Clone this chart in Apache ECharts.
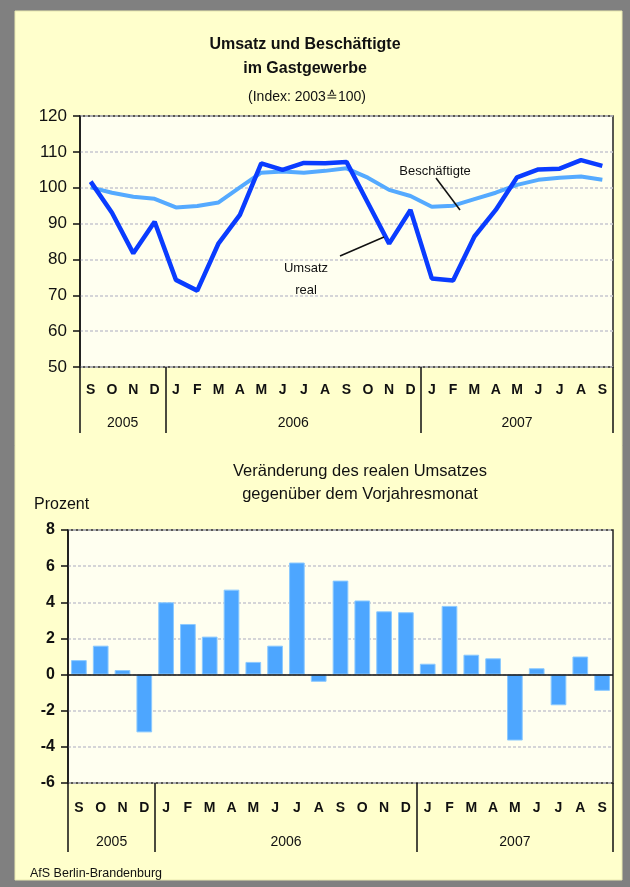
<!DOCTYPE html>
<html>
<head>
<meta charset="utf-8">
<title>Umsatz und Beschäftigte im Gastgewerbe</title>
<script src="https://cdn.jsdelivr.net/npm/echarts@6/dist/echarts.min.js"></script>
<style>
  html, body { margin: 0; padding: 0; background: #808080; }
  #main { width: 630px; height: 887px; }
</style>
</head>
<body>
<div id="main"></div>
<script>
// Monate Sep 2005 bis Sep 2007
var months = ['S','O','N','D','J','F','M','A','M','J','J','A','S','O','N','D','J','F','M','A','M','J','J','A','S'];
var yearLabels = ['2005', '2006', '2007'];
var yearMonths = [4, 12, 9];

// Index 2003 = 100
var umsatzReal = [101.7, 93.0, 81.7, 90.5, 74.3, 71.3, 84.5, 92.4, 106.8, 105.0, 106.9, 106.8, 107.2,
                  95.8, 84.4, 93.8, 74.7, 74.1, 86.4, 93.8, 102.9, 105.1, 105.3, 107.7, 106.1];
var beschaeftigte = [100.1, 98.6, 97.5, 96.9, 94.5, 94.9, 95.9, 100.1, 104.2, 104.5, 104.2, 104.7, 105.4,
                     102.8, 99.4, 97.7, 94.7, 95.0, 96.8, 98.6, 100.8, 102.2, 102.8, 103.1, 102.2];

// Veränderung gegenüber Vorjahresmonat in Prozent
var veraenderung = [0.8, 1.6, 0.25, -3.2, 4.0, 2.8, 2.1, 4.7, 0.7, 1.6, 6.2, -0.4, 5.2,
                    4.1, 3.5, 3.45, 0.6, 3.8, 1.1, 0.9, -3.65, 0.35, -1.7, 1.0, -0.9];

var font = 'Liberation Sans, Arial, sans-serif';

// Jahresachse in halben Monaten: Trennstriche an Jahresgrenzen, Beschriftung in der Mitte
var halfCats = [], yearBounds = [0], yearAt = {};
(function () {
    var pos = 0;
    for (var k = 0; k < yearMonths.length; k++) {
        yearAt[pos + yearMonths[k]] = yearLabels[k];
        pos += yearMonths[k] * 2;
        yearBounds.push(pos);
    }
    for (var i = 0; i <= months.length * 2; i++) halfCats.push('h' + i);
})();

function monthAxis(grid, margin) {
    return {
        type: 'category', gridIndex: grid, position: 'bottom', data: months,
        axisLine: { show: false, onZero: false },
        axisTick: { show: false },
        axisLabel: { interval: 0, margin: margin, color: '#111', fontSize: 14, fontWeight: 'bold', fontFamily: font },
        splitLine: { show: false }
    };
}

function yearAxis(grid, tickLen, margin) {
    return {
        type: 'category', gridIndex: grid, position: 'bottom', data: halfCats, boundaryGap: false,
        axisLine: { show: false, onZero: false },
        axisTick: {
            show: true, length: tickLen,
            interval: function (i) { return yearBounds.indexOf(i) >= 0; },
            lineStyle: { color: '#111', width: 1.5 }
        },
        axisLabel: {
            margin: margin, color: '#111', fontSize: 14, fontFamily: font,
            interval: function (i) { return yearAt[i] !== undefined; },
            formatter: function (v, i) { return yearAt[i] || ''; }
        },
        splitLine: { show: false }
    };
}

var gridLine = { show: true, lineStyle: { color: '#c8c8d0', width: 1.5, type: [3, 2] } };

var myChart = echarts.init(document.getElementById('main'));
var option = {
    backgroundColor: '#808080',
    animation: false,
    title: [
        { text: 'Umsatz und Beschäftigte\nim Gastgewerbe', left: 300, top: 28, textAlign: 'center',
          textStyle: { fontSize: 16, fontWeight: 'bold', lineHeight: 24, color: '#111', fontFamily: font } },
        { text: '(Index: 2003≙100)', left: 302, top: 84, textAlign: 'center',
          textStyle: { fontSize: 14, fontWeight: 'normal', lineHeight: 16, color: '#111', fontFamily: font } },
        { text: 'Veränderung des realen Umsatzes\ngegenüber dem Vorjahresmonat', left: 355, top: 455, textAlign: 'center',
          textStyle: { fontSize: 16.5, fontWeight: 'normal', lineHeight: 23, color: '#111', fontFamily: font } },
        { text: 'Prozent', left: 29, top: 491,
          textStyle: { fontSize: 16, fontWeight: 'normal', lineHeight: 17, color: '#111', fontFamily: font } },
        { text: 'AfS Berlin-Brandenburg', left: 25, top: 862,
          textStyle: { fontSize: 12.5, fontWeight: 'normal', lineHeight: 14, color: '#111', fontFamily: font } }
    ],
    graphic: [
        { type: 'rect', z: -10, silent: true, shape: { x: 15, y: 11, width: 607, height: 869 },
          style: { fill: '#ffffcc', stroke: '#e8e8b0', lineWidth: 1 } },
        // Beschriftungen im Liniendiagramm
        { type: 'text', z: 50, x: 435, y: 171, style: { text: 'Beschäftigte', align: 'center', verticalAlign: 'middle',
          fontSize: 13, fontFamily: font, fill: '#111' } },
        { type: 'line', z: 50, shape: { x1: 436, y1: 178, x2: 460, y2: 210 }, style: { stroke: '#111', lineWidth: 1.5 } },
        { type: 'text', z: 50, x: 306, y: 279, style: { text: 'Umsatz\nreal', align: 'center', verticalAlign: 'middle',
          fontSize: 13, lineHeight: 22, fontFamily: font, fill: '#111' } },
        { type: 'line', z: 50, shape: { x1: 340, y1: 256, x2: 384, y2: 237 }, style: { stroke: '#111', lineWidth: 1.5 } }
    ],
    grid: [
        { left: 80, top: 116, width: 533, height: 251, show: true, backgroundColor: '#fffff0',
          borderColor: '#222', borderWidth: 1.5, outerBoundsMode: 'none' },
        { left: 68, top: 530, width: 545, height: 253, show: true, backgroundColor: '#fffff0',
          borderColor: '#222', borderWidth: 1.5, outerBoundsMode: 'none' }
    ],
    xAxis: [
        monthAxis(0, 16),
        yearAxis(0, 66, 49),
        monthAxis(1, 18),
        yearAxis(1, 69, 52)
    ],
    yAxis: [
        { type: 'value', gridIndex: 0, min: 50, max: 120, interval: 10,
          axisLine: { show: true, lineStyle: { color: '#111', width: 1.5 } },
          axisTick: { show: true, length: 7, lineStyle: { color: '#111', width: 1.5 } },
          axisLabel: { margin: 13, color: '#111', fontSize: 17, fontFamily: font },
          splitLine: gridLine },
        { type: 'value', gridIndex: 1, min: -6, max: 8, interval: 2,
          axisLine: { show: true, lineStyle: { color: '#111', width: 1.5 } },
          axisTick: { show: true, length: 7, lineStyle: { color: '#111', width: 1.5 } },
          axisLabel: { margin: 13, color: '#111', fontSize: 16, fontWeight: 'bold', fontFamily: font },
          splitLine: gridLine }
    ],
    series: [
        { name: 'Beschäftigte', type: 'line', xAxisIndex: 0, yAxisIndex: 0, data: beschaeftigte,
          symbol: 'none', lineStyle: { color: '#55aaff', width: 4 }, z: 3 },
        { name: 'Umsatz real', type: 'line', xAxisIndex: 0, yAxisIndex: 0, data: umsatzReal,
          symbol: 'none', lineStyle: { color: '#0a3cff', width: 4.5 }, z: 4 },
        { name: 'Veränderung', type: 'bar', xAxisIndex: 2, yAxisIndex: 1, data: veraenderung,
          barCategoryGap: '28%',
          itemStyle: { color: '#4da6ff', borderColor: '#8ccaff', borderWidth: 1 },
          markLine: { silent: true, symbol: ['none', 'none'], label: { show: false },
                      lineStyle: { color: '#111', type: 'solid', width: 1.5 },
                      data: [{ yAxis: 0 }] } }
    ]
};
myChart.setOption(option);
</script>
</body>
</html>
